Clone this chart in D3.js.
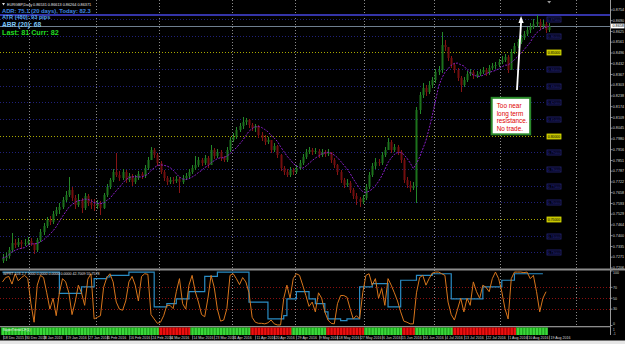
<!DOCTYPE html>
<html><head><meta charset="utf-8">
<script src="https://cdn.jsdelivr.net/npm/d3@7"></script>
<style>html,body{margin:0;padding:0;background:#000;overflow:hidden}svg{display:block}text{font-family:"Liberation Sans",Arial,sans-serif}</style>
</head><body><svg id="c" width="625" height="344"></svg>
<script>
// ---------- DATA (EURGBP daily, 18 Dec 2015 - 19 Aug 2016) ----------
const firstOpen = 0.7250;
const closes = [
0.7266,0.7278,0.7314,0.7356,0.7344,0.7362,0.7350,0.7356,0.7368,0.7356,
0.7314,0.7374,0.7422,0.7458,0.7494,0.7482,0.7530,0.7554,0.7572,0.7614,
0.7644,0.7674,0.7626,0.7584,0.7614,0.7566,0.7638,0.7596,0.7584,0.7578,
0.7596,0.7566,0.7644,0.7692,0.7734,0.7782,0.7764,0.7746,0.7782,0.7734,
0.7758,0.7722,0.7746,0.7770,0.7758,0.7806,0.7854,0.7914,0.7884,0.7836,
0.7782,0.7746,0.7722,0.7734,0.7728,0.7740,0.7722,0.7746,0.7758,0.7782,
0.7806,0.7824,0.7854,0.7836,0.7866,0.7824,0.7914,0.7878,0.7902,0.7866,
0.7854,0.7914,0.7974,0.7992,0.8034,0.8058,0.8082,0.8094,0.8064,0.8046,
0.8058,0.8004,0.7986,0.7962,0.7974,0.7914,0.7938,0.7884,0.7806,0.7782,
0.7764,0.7794,0.7782,0.7806,0.7836,0.7872,0.7902,0.7914,0.7902,0.7908,
0.7884,0.7902,0.7890,0.7902,0.7854,0.7824,0.7782,0.7734,0.7704,0.7716,
0.7674,0.7638,0.7620,0.7602,0.7626,0.7692,0.7764,0.7818,0.7842,0.7836,
0.7884,0.7914,0.7962,0.7914,0.7932,0.7902,0.7854,0.7734,0.7704,0.7686,
0.7698,0.8154,0.8244,0.8286,0.8262,0.8304,0.8334,0.8382,0.8394,0.8544,
0.8532,0.8466,0.8424,0.8394,0.8346,0.8304,0.8334,0.8370,0.8382,0.8358,
0.8370,0.8382,0.8394,0.8376,0.8406,0.8418,0.8424,0.8442,0.8454,0.8472,
0.8394,0.8502,0.8538,0.8562,0.8586,0.8610,0.8634,0.8652,0.8670,0.8682,
0.8658,0.8670,0.8634,0.8658];
const highs = [
0.7290,0.7300,0.7332,0.7416,0.7380,0.7386,0.7374,0.7380,0.7392,0.7386,
0.7350,0.7386,0.7440,0.7476,0.7512,0.7518,0.7548,0.7572,0.7596,0.7632,
0.7668,0.7752,0.7692,0.7644,0.7650,0.7626,0.7656,0.7650,0.7620,0.7620,
0.7614,0.7608,0.7656,0.7710,0.7746,0.7800,0.7896,0.7788,0.7800,0.7794,
0.7776,0.7770,0.7764,0.7788,0.7782,0.7824,0.7872,0.7932,0.7926,0.7896,
0.7848,0.7794,0.7758,0.7752,0.7752,0.7758,0.7752,0.7764,0.7776,0.7800,
0.7824,0.7878,0.7872,0.7866,0.7884,0.7878,0.7944,0.7926,0.7920,0.7914,
0.7878,0.7932,0.7992,0.8016,0.8052,0.8076,0.8112,0.8106,0.8100,0.8076,
0.8070,0.8064,0.8022,0.8004,0.7992,0.7950,0.7956,0.7944,0.7890,0.7818,
0.7800,0.7812,0.7806,0.7824,0.7854,0.7890,0.7920,0.7932,0.7926,0.7926,
0.7920,0.7920,0.7914,0.7920,0.7884,0.7866,0.7830,0.7794,0.7746,0.7740,
0.7728,0.7686,0.7656,0.7632,0.7644,0.7710,0.7782,0.7836,0.7866,0.7860,
0.7902,0.7932,0.7986,0.7974,0.7950,0.7944,0.7914,0.7866,0.7752,0.7728,
0.7722,0.8172,0.8262,0.8316,0.8304,0.8328,0.8352,0.8400,0.8418,0.8622,
0.8574,0.8526,0.8478,0.8436,0.8406,0.8358,0.8352,0.8388,0.8400,0.8394,
0.8388,0.8400,0.8412,0.8406,0.8424,0.8436,0.8442,0.8460,0.8478,0.8490,
0.8484,0.8520,0.8556,0.8580,0.8604,0.8628,0.8652,0.8676,0.8700,0.8724,
0.8700,0.8694,0.8682,0.8676];
const lows = [
0.7236,0.7248,0.7262,0.7300,0.7326,0.7332,0.7320,0.7338,0.7344,0.7338,
0.7290,0.7302,0.7362,0.7404,0.7446,0.7464,0.7470,0.7518,0.7530,0.7560,
0.7602,0.7632,0.7608,0.7560,0.7572,0.7536,0.7554,0.7578,0.7560,0.7548,
0.7560,0.7524,0.7560,0.7632,0.7680,0.7722,0.7752,0.7728,0.7734,0.7716,
0.7722,0.7698,0.7710,0.7734,0.7740,0.7746,0.7794,0.7890,0.7866,0.7818,
0.7770,0.7728,0.7704,0.7710,0.7710,0.7716,0.7656,0.7710,0.7734,0.7746,
0.7770,0.7794,0.7812,0.7818,0.7824,0.7806,0.7872,0.7860,0.7866,0.7848,
0.7842,0.7842,0.7902,0.7962,0.7980,0.8022,0.8040,0.8064,0.8046,0.8028,
0.8022,0.7986,0.7968,0.7944,0.7950,0.7896,0.7902,0.7866,0.7788,0.7764,
0.7752,0.7752,0.7764,0.7770,0.7794,0.7824,0.7860,0.7890,0.7884,0.7890,
0.7866,0.7872,0.7872,0.7878,0.7836,0.7806,0.7764,0.7716,0.7686,0.7692,
0.7656,0.7620,0.7584,0.7572,0.7590,0.7614,0.7680,0.7752,0.7800,0.7818,
0.7824,0.7872,0.7932,0.7896,0.7902,0.7884,0.7836,0.7716,0.7686,0.7662,
0.7674,0.7596,0.8130,0.8226,0.8238,0.8250,0.8286,0.8316,0.8364,0.8376,
0.8508,0.8448,0.8406,0.8376,0.8328,0.8262,0.8292,0.8322,0.8358,0.8340,
0.8346,0.8358,0.8370,0.8358,0.8364,0.8394,0.8400,0.8412,0.8430,0.8442,
0.8376,0.8430,0.8490,0.8526,0.8550,0.8574,0.8598,0.8616,0.8640,0.8652,
0.8634,0.8640,0.8616,0.8622];
const maPeriod = 8;
// oscillator (lower pane, 0..100)
const osc = [
80,88,90,76,95,82,88,92,86,40,6,74,92,88,60,30,50,18,60,86,
80,60,20,43,74,60,37,85,95,12,15,18,70,88,95,80,43,30,28,45,
80,90,74,45,90,95,94,20,12,4,6,18,37,37,31,62,86,40,30,74,
92,62,43,20,16,50,92,70,30,8,10,31,92,95,86,75,88,80,60,15,
6,4,4,3,5,10,3,1,1,50,74,50,86,95,92,74,55,35,43,25,
60,50,25,10,4,3,40,55,55,52,31,12,18,12,60,92,95,74,86,50,
68,37,86,74,60,45,25,8,6,3,3,60,88,92,74,86,96,98,98,95,
92,43,20,10,30,50,25,50,37,80,62,50,74,70,62,86,98,86,62,31,
12,86,98,98,98,97,98,86,92,62,25,50,62];
// blue step line: [start bar, value]
const blueSteps = [[0,98],[18,59],[25,71],[29,86],[33,89],[34,92],[40,98],[48,34],[52,40],[55,49],
[59,62],[64,90],[68,98],[78,43],[84,12],[89,18],[90,49],[93,62],[97,49],[99,40],[102,25],[103,12],
[107,9],[109,12],[113,71],[117,77],[122,34],[126,83],[131,92],[136,95],[142,49],[152,71],[158,83],[162,95]];
const blueEnd = 171;
// trend strip: [from bar, to bar, direction]
const trendRuns = [[0,49,1],[50,59,-1],[60,78,1],[79,91,-1],[92,102,1],[103,114,-1],[115,126,1],
[127,130,-1],[131,142,1],[143,162,-1],[163,172,1]];
// axes
const priceTicks = [0.8754,0.8690,0.8625,0.8561,0.8496,0.8432,0.8367,0.8303,0.8238,0.8174,0.8109,0.8045,
0.7980,0.7916,0.7851,0.7787,0.7722,0.7658,0.7593,0.7529,0.7464,0.7400,0.7335,0.7271,0.7206];
const gridLevels = [0.87,0.86,0.85,0.84,0.83,0.82,0.81,0.80,0.79,0.78,0.77,0.76,0.75,0.74,0.73];
const majorLevels = [0.85,0.80,0.75];
const resistance = 0.8724;
const dateBars = [0,7,13,20,27,33,40,47,53,60,67,73,80,86,93,100,106,113,120,126,133,140,146,153,160,166,173];
const dateLabels = ["18 Dec 2015","30 Dec 2015","8 Jan 2016","19 Jan 2016","27 Jan 2016","5 Feb 2016","16 Feb 2016",
"24 Feb 2016","4 Mar 2016","14 Mar 2016","23 Mar 2016","1 Apr 2016","11 Apr 2016","20 Apr 2016","29 Apr 2016",
"9 May 2016","18 May 2016","27 May 2016","6 Jun 2016","15 Jun 2016","24 Jun 2016","4 Jul 2016","13 Jul 2016",
"22 Jul 2016","1 Aug 2016","10 Aug 2016","19 Aug 2016"];
const monthBars = [9,30,50,73,93,115,137,158,182];
const oscLevels = [70,50,30];
const oscTicks = [100,70,50,30,0];
const headerText = "EURGBP,Daily  0.86531 0.86613 0.86264 0.86371";
const infoTexts = ["ADR: 75.1 (20 days), Today: 82.3","ATR (480): 93 pips","ABR (20): 68","Last: 81  Curr: 82"];
const oscTitle = "WPRT 103 2.7 1000 0.0000 0.0000 0.0000 42.7009 55.7578";
const stripTitle = "SuperTrend CF(1)";
const noteLines = ["Too near","long term","resistance.","No trade."];
const arrowFrom = {bar:162.8, price:0.8274}, arrowBar = 164.1;
// ---------- DRAW ----------
const svg = d3.select("#c");
const W = 625, AX = 610.5;
const n = closes.length;
const opens = closes.map((c,i)=> i ? closes[i-1] : firstOpen);
const x = d3.scaleLinear().domain([0,173]).range([2.5,549.2]);
const y = d3.scaleLinear().domain([0.7206,0.8754]).range([268,10]);
const yo = d3.scaleLinear().domain([0,100]).range([325.5,271]);

svg.append("rect").attr("width",W).attr("height",344).attr("fill","#000");

// month separators
svg.append("g").selectAll("line").data(monthBars).join("line")
  .attr("x1",d=>Math.round(x(d)-1.6)+0.5).attr("x2",d=>Math.round(x(d)-1.6)+0.5)
  .attr("y1",0).attr("y2",326).attr("stroke","#8a8a8a").attr("stroke-width",1).attr("stroke-dasharray","1,2");

// level grid lines
const lv = svg.append("g");
lv.selectAll("line").data(gridLevels).join("line")
  .attr("x1",0).attr("x2",546).attr("y1",d=>Math.round(y(d))+0.5).attr("y2",d=>Math.round(y(d))+0.5)
  .attr("stroke",d=>majorLevels.includes(d)?"#a8a800":"#20207a").attr("stroke-width",1)
  .attr("stroke-dasharray","1,2");
lv.selectAll("rect").data(gridLevels).join("rect")
  .attr("x",547).attr("y",d=>Math.round(y(d))-2).attr("width",14).attr("height",5)
  .attr("fill",d=>majorLevels.includes(d)?"#b8b800":"#000010")
  .attr("stroke",d=>majorLevels.includes(d)?"#e0e000":"#26267e").attr("stroke-width",0.8);
lv.selectAll("text").data(gridLevels).join("text")
  .attr("x",554).attr("y",d=>Math.round(y(d))+1.6).attr("text-anchor","middle")
  .attr("font-size",3.4).attr("fill",d=>majorLevels.includes(d)?"#202000":"#33339a")
  .text(d=>d.toFixed(5));

// resistance line & bid line
svg.append("line").attr("x1",0).attr("x2",AX).attr("y1",y(resistance)).attr("y2",y(resistance))
  .attr("stroke","#3434a8").attr("stroke-width",2);
const last = closes[n-1];
svg.append("line").attr("x1",0).attr("x2",AX).attr("y1",Math.round(y(last))+0.5).attr("y2",Math.round(y(last))+0.5)
  .attr("stroke","#6f7f8f").attr("stroke-width",1);

// candles
const cg = svg.append("g");
const bars = d3.range(n).map(i=>({i,o:opens[i],c:closes[i],h:Math.max(highs[i],opens[i],closes[i]),l:Math.min(lows[i],opens[i],closes[i])}));
cg.selectAll("line").data(bars).join("line")
  .attr("x1",d=>Math.round(x(d.i))+0.5).attr("x2",d=>Math.round(x(d.i))+0.5)
  .attr("y1",d=>y(d.h)).attr("y2",d=>y(d.l))
  .attr("stroke",d=>d.c>=d.o?"#24882a":"#861414").attr("stroke-width",1);
cg.selectAll("rect").data(bars).join("rect")
  .attr("x",d=>Math.round(x(d.i))-0.5).attr("width",2)
  .attr("y",d=>y(Math.max(d.o,d.c))).attr("height",d=>Math.max(1,Math.abs(y(d.o)-y(d.c))))
  .attr("fill",d=>d.c>=d.o?"#1c721c":"#720e0e");

// moving average
const ma = closes.map((c,i)=>d3.mean(closes.slice(Math.max(0,i-maPeriod+1),i+1)));
svg.append("path").datum(ma).attr("d",d3.line().x((d,i)=>x(i)).y(d=>y(d)))
  .attr("fill","none").attr("stroke","#8a1ec8").attr("stroke-width",1).attr("stroke-dasharray","2,1.3");

// header + info texts
svg.append("path").attr("d","M2,3 L5,3 L3.5,5.5 Z").attr("fill","#ddd");
svg.append("text").attr("x",7).attr("y",5.6).attr("font-size",3.8).attr("fill","#e8e8e8").text(headerText);
const infoStyle = [{c:"#3f86e0",s:5.8,y:12.6},{c:"#5aa6f0",s:5.6,y:19},{c:"#7cc4f4",s:6.6,y:27},{c:"#22dd22",s:7.2,y:35.2}];
svg.append("g").selectAll("text").data(infoTexts).join("text")
  .attr("x",2).attr("y",(d,i)=>infoStyle[i].y).attr("font-size",(d,i)=>infoStyle[i].s)
  .attr("font-weight","bold").attr("fill",(d,i)=>infoStyle[i].c).text(d=>d);

// price axis
svg.append("line").attr("x1",AX).attr("x2",AX).attr("y1",0).attr("y2",340).attr("stroke","#9a9a9a");
const pa = svg.append("g");
pa.selectAll("line").data(priceTicks).join("line").attr("x1",AX).attr("x2",AX+2)
  .attr("y1",d=>y(d)).attr("y2",d=>y(d)).attr("stroke","#bbb").attr("stroke-width",0.7);
pa.selectAll("text").data(priceTicks).join("text").attr("x",AX+2.3).attr("y",d=>y(d)+1.3)
  .attr("font-size",3.7).attr("fill","#d6d6d6").text(d=>d.toFixed(4));
svg.append("rect").attr("x",AX+0.5).attr("y",y(last)-2.4).attr("width",13.5).attr("height",4.8).attr("fill","#fff");
svg.append("text").attr("x",AX+2).attr("y",y(last)+1.3).attr("font-size",3.7).attr("fill","#000").text(last.toFixed(4));
// chart shift marker
svg.append("path").attr("d",`M${x(173)-2},1 L${x(173)+2},1 L${x(173)},3.5 Z`).attr("fill","#999");

// annotation arrow and note
const ax0 = x(arrowFrom.bar), ay0 = y(arrowFrom.price), ax1 = x(arrowBar), ay1 = y(resistance)+1;
svg.append("line").attr("x1",ax0).attr("y1",ay0).attr("x2",ax1).attr("y2",ay1+6).attr("stroke","#fff").attr("stroke-width",1.8);
svg.append("path").attr("d",`M${ax1},${ay1} L${ax1-2.6},${ay1+7} L${ax1+2.6},${ay1+7} Z`).attr("fill","#fff");
const bx = x(154.8), by = y(0.8227);
svg.append("rect").attr("x",bx).attr("y",by).attr("width",38.5).attr("height",36.5)
  .attr("fill","#fff").attr("stroke","#2a8a2a").attr("stroke-width",2);
svg.append("g").selectAll("text").data(noteLines).join("text")
  .attr("x",bx+5).attr("y",(d,i)=>by+10+i*7.8).attr("font-size",6.4).attr("fill","#e00000").text(d=>d);

// pane separators
svg.append("rect").attr("x",0).attr("y",268.5).attr("width",W).attr("height",2).attr("fill","#8c8c8c");
svg.append("rect").attr("x",0).attr("y",326).attr("width",AX).attr("height",1.3).attr("fill","#8c8c8c");

// oscillator pane
svg.append("g").selectAll("line").data(oscLevels).join("line")
  .attr("x1",0).attr("x2",AX).attr("y1",d=>Math.round(yo(d))+0.5).attr("y2",d=>Math.round(yo(d))+0.5)
  .attr("stroke","#8a1010").attr("stroke-width",1).attr("stroke-dasharray","1,2");
const bpts = blueSteps.map(d=>[d[0],d[1]]).concat([[blueEnd,blueSteps[blueSteps.length-1][1]]]);
svg.append("path").datum(bpts).attr("d",d3.line().x(d=>x(d[0])).y(d=>yo(d[1])).curve(d3.curveStepAfter))
  .attr("fill","none").attr("stroke","#2a8cc4").attr("stroke-width",1.2);
svg.append("path").datum(osc).attr("d",d3.line().x((d,i)=>x(i)).y(d=>yo(d)))
  .attr("fill","none").attr("stroke","#d8761c").attr("stroke-width",1);
svg.append("text").attr("x",3).attr("y",274.6).attr("font-size",3.6).attr("fill","#e0e0e0").text(oscTitle);
const ot = svg.append("g");
ot.selectAll("line").data(oscTicks).join("line").attr("x1",AX).attr("x2",AX+2)
  .attr("y1",d=>yo(d)).attr("y2",d=>yo(d)).attr("stroke","#bbb").attr("stroke-width",0.7);
ot.selectAll("text").data(oscTicks).join("text").attr("x",AX+2.6)
  .attr("y",d=>d===100?yo(d)+3:(d===0?yo(d)-0.3:yo(d)+1.3))
  .attr("font-size",3.5).attr("fill","#d6d6d6").text(d=>d);

// trend strip
const cells = [];
trendRuns.forEach(r=>{ for(let i=r[0];i<=r[1];i++) cells.push({i,dir:r[2]}); });
const sg = svg.append("g");
const bw = x(1)-x(0);
sg.selectAll("rect").data(cells).join("rect")
  .attr("x",d=>x(d.i)-bw/2).attr("width",bw+0.2).attr("y",327.5).attr("height",7.5)
  .attr("fill",d=>d.dir>0?"#3ad83a":"#ee1010");
sg.selectAll("line").data(cells).join("line")
  .attr("x1",d=>x(d.i)-bw/2+0.5).attr("x2",d=>x(d.i)-bw/2+0.5).attr("y1",327.5).attr("y2",335)
  .attr("stroke",d=>d.dir>0?"#1c9c1c":"#a00000").attr("stroke-width",1);
svg.append("text").attr("x",3).attr("y",331.2).attr("font-size",3.4).attr("fill","#f0f0f0").text(stripTitle);
svg.append("text").attr("x",AX+2.6).attr("y",331).attr("font-size",3).attr("fill","#d6d6d6").text("1");
svg.append("text").attr("x",AX+2.6).attr("y",335).attr("font-size",3).attr("fill","#d6d6d6").text("-1");

// date axis
svg.append("rect").attr("x",0).attr("y",335).attr("width",W).attr("height",5.5).attr("fill","#000");
const da = svg.append("g");
da.selectAll("line").data(dateBars).join("line")
  .attr("x1",d=>Math.round(x(d))+0.5).attr("x2",d=>Math.round(x(d))+0.5).attr("y1",335.5).attr("y2",339.5)
  .attr("stroke","#888").attr("stroke-width",0.7);
da.selectAll("text").data(dateLabels).join("text")
  .attr("x",(d,i)=>x(dateBars[i])+1.2).attr("y",339.2).attr("font-size",3.6).attr("fill","#d8d8d8").text(d=>d);
svg.append("rect").attr("x",0).attr("y",340.5).attr("width",W).attr("height",3.5).attr("fill","#e6e6e6");
</script></body></html>
